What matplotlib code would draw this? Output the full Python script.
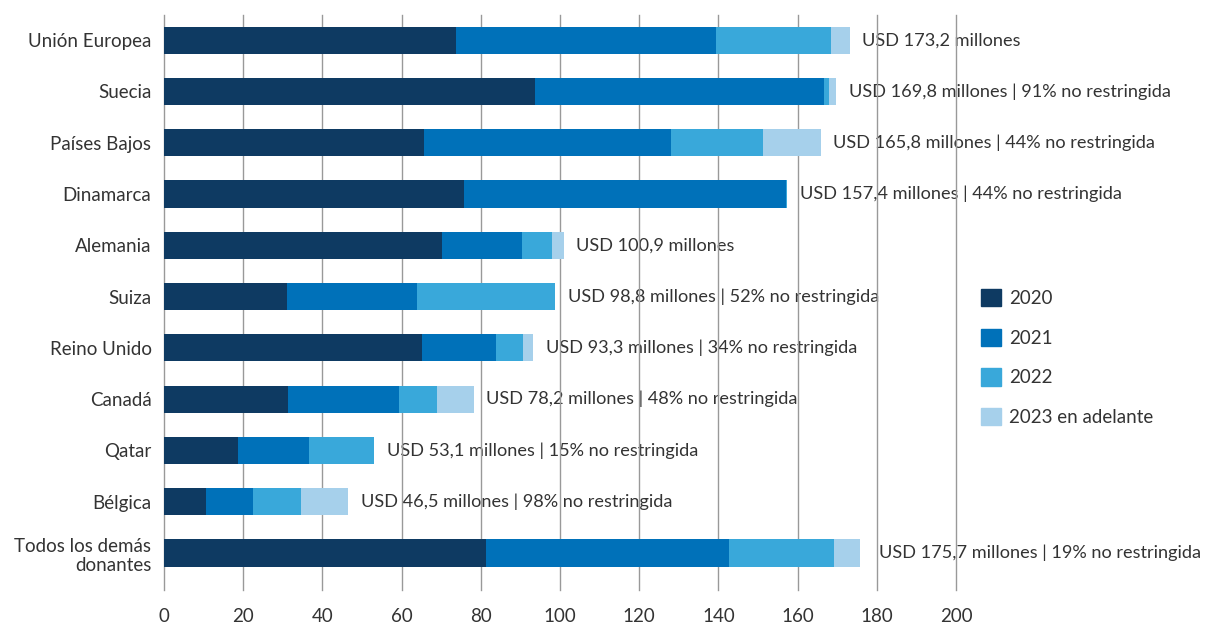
import numpy as np
import matplotlib.pyplot as plt
from matplotlib.patches import Patch

plt.rcParams["font.family"] = ["Lato", "DejaVu Sans"]

donors = [
    "Unión Europea", "Suecia", "Países Bajos", "Dinamarca", "Alemania",
    "Suiza", "Reino Unido", "Canadá", "Qatar", "Bélgica",
    "Todos los demás\ndonantes",
]
y2020 = [73.7, 93.7, 65.7, 75.8, 70.2, 31.1, 65.2, 31.3, 18.7, 10.6, 81.3]
y2021 = [65.7, 73.0, 62.3, 81.2, 20.2, 32.8, 18.7, 28.0, 17.9, 11.9, 61.4]
y2022 = [29.0, 1.2, 23.3, 0.4, 7.6, 34.9, 6.8, 9.6, 16.5, 12.1, 26.5]
y2023 = [4.8, 1.9, 14.5, 0.0, 2.9, 0.0, 2.6, 9.3, 0.0, 11.9, 6.5]
labels = [
    "USD 173,2 millones",
    "USD 169,8 millones | 91% no restringida",
    "USD 165,8 millones | 44% no restringida",
    "USD 157,4 millones | 44% no restringida",
    "USD 100,9 millones",
    "USD 98,8 millones | 52% no restringida",
    "USD 93,3 millones | 34% no restringida",
    "USD 78,2 millones | 48% no restringida",
    "USD 53,1 millones | 15% no restringida",
    "USD 46,5 millones | 98% no restringida",
    "USD 175,7 millones | 19% no restringida",
]
series_names = ["2020", "2021", "2022", "2023 en adelante"]
colors = ["#0e3a62", "#0071b9", "#39a8da", "#a6d0eb"]
xticks = [0, 20, 40, 60, 80, 100, 120, 140, 160, 180, 200]

text_color = "#333333"
fs = 13.5

fig = plt.figure(figsize=(12.09, 6.26), dpi=100)
ax = fig.add_axes([164 / 1209, 1 - 590 / 626, 792 / 1209, 575 / 626])

ypos = np.arange(len(donors))
left = np.zeros(len(donors))
for vals, col in zip([y2020, y2021, y2022, y2023], colors):
    vals = np.array(vals)
    ax.barh(ypos, vals, left=left, height=0.53, color=col, zorder=3)
    left += vals

for x in xticks:
    ax.axvline(x, color="#999999", lw=1, zorder=2, clip_on=False)

for y, total, lab in zip(ypos, left, labels):
    # last label sits a bit further from its bar in the original
    off = 14 if y == len(donors) - 1 else 9
    ax.annotate(lab, (total, y), xytext=(off, 0), textcoords="offset points",
                va="center", ha="left", fontsize=13.1, color=text_color,
                zorder=1, annotation_clip=False)

ax.set_xlim(0, 200)
ax.set_ylim(10.72, -0.49)
ax.set_xticks(xticks)
ax.set_yticks(ypos)
ax.set_yticklabels(donors)
ax.tick_params(axis="both", length=0, labelsize=fs, colors=text_color)
ax.tick_params(axis="y", pad=9)
ax.tick_params(axis="x", pad=13)
for s in ax.spines.values():
    s.set_visible(False)

handles = [Patch(color=c, label=n) for c, n in zip(colors, series_names)]
fig.legend(handles=handles, loc="upper left", bbox_to_anchor=(964 / 1209, 1 - 272 / 626),
           frameon=False, fontsize=fs, handlelength=1.05, handleheight=1.05,
           handletextpad=0.45, labelspacing=1.15, labelcolor=text_color)

fig.savefig("out.png", dpi=100)
